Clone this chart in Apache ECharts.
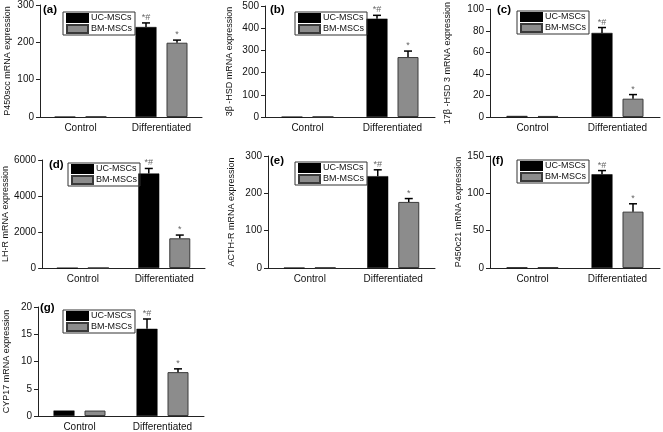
<!DOCTYPE html>
<html>
<head>
<meta charset="utf-8">
<script src="https://cdn.jsdelivr.net/npm/echarts@6/dist/echarts.min.js"></script>
<style>html,body{margin:0;padding:0;background:#fff;}#c{width:663px;height:432px;}</style>
</head>
<body>
<div id="c"></div>
<script>
const categories = ['Control', 'Differentiated'];
const seriesNames = ['UC-MSCs', 'BM-MSCs'];
const panelLabels = ['(a)', '(b)', '(c)', '(d)', '(e)', '(f)', '(g)'];
const yTitles = ['P450scc mRNA expression', '3\u03b2 -HSD mRNA expression', '17\u03b2 -HSD 3 mRNA expression',
  'LH-R mRNA expression', 'ACTH-R mRNA expression', 'P450c21 mRNA expression', 'CYP17 mRNA expression'];
const yMax = [300, 500, 100, 6000, 300, 150, 20];
const yStep = [100, 100, 20, 2000, 100, 50, 5];
// per panel: [Control, Differentiated]
const ucMean = [[1, 241], [1, 443], [1, 78], [1, 5250], [1, 246], [1, 125.5], [1, 16]];
const ucErr  = [[0, 11], [0, 15], [0, 5], [0, 280], [0, 17], [0, 5], [0, 1.8]];
const bmMean = [[1, 199], [1, 270], [1, 17], [1, 1650], [1, 177], [1, 75.5], [1, 8.05]];
const bmErr  = [[0, 7], [0, 27], [0, 3.8], [0, 180], [0, 9], [0, 10.5], [0, 0.6]];
const ucSig = ['', '*#'];
const bmSig = ['', '*'];

// layout (px)
const grids = [
  {left: 40, top: 5, width: 162, height: 112},
  {left: 265, top: 6, width: 170, height: 111},
  {left: 490, top: 5, width: 170, height: 112},
  {left: 40, top: 160, width: 165, height: 108},
  {left: 268, top: 156, width: 167, height: 112},
  {left: 490, top: 156, width: 170, height: 112},
  {left: 38, top: 307, width: 166, height: 111}
];
const nameGaps = [28, 31, 38, 31, 32, 22, 27];
const legendPos = [[63, 12], [295, 12], [517, 11], [68, 163], [295, 162], [517, 160], [63, 310]];
const labelPos = [[43, 4], [270, 4], [497, 4], [49, 159], [270, 155], [492, 155], [40, 302]];

const FONT = 'Liberation Sans';
const BAR_W = 21, GAP = 10;
const OFF = (BAR_W + GAP) / 2;

function errSeries(i, means, errs, off, sig) {
  return {
    type: 'custom', name: 'err' + i + off, xAxisIndex: i, yAxisIndex: i, z: 5,
    data: means[i].map((m, c) => [c, m, errs[i][c]]),
    renderItem: function (params, api) {
      const c = api.value(0), m = api.value(1), e = api.value(2);
      const base = api.coord([c, m]);
      const top = api.coord([c, m + e]);
      const x = base[0] + off;
      const ch = [];
      if (e > 0) {
        ch.push({type: 'line', shape: {x1: x, y1: base[1], x2: x, y2: top[1]}, style: {stroke: '#000', lineWidth: 1.5}});
        ch.push({type: 'line', shape: {x1: x - 4, y1: top[1], x2: x + 4, y2: top[1]}, style: {stroke: '#000', lineWidth: 1.5}});
      }
      const t = sig[params.dataIndex];
      if (t) {
        ch.push({type: 'text', style: {text: t, x: x, y: top[1] - 1, align: 'center', verticalAlign: 'bottom',
          fontSize: 9, fontFamily: FONT, fill: '#666'}});
      }
      return {type: 'group', children: ch};
    }
  };
}

const option = {
  animation: false,
  backgroundColor: '#fff',
  grid: grids.map(g => Object.assign({containLabel: false}, g)),
  xAxis: grids.map((g, i) => ({
    type: 'category', gridIndex: i, data: categories,
    axisLine: {lineStyle: {color: '#222', width: 1}},
    axisTick: {alignWithLabel: true, length: 3, lineStyle: {color: '#222'}},
    axisLabel: {fontSize: 10, fontFamily: FONT, color: '#111', margin: 6}
  })),
  yAxis: grids.map((g, i) => ({
    type: 'value', gridIndex: i, min: 0, max: yMax[i], interval: yStep[i],
    name: yTitles[i], nameLocation: 'middle', nameRotate: 90, nameGap: nameGaps[i],
    nameTextStyle: {fontSize: 9, fontFamily: FONT, color: '#111'},
    axisLine: {show: true, lineStyle: {color: '#222', width: 1}},
    axisTick: {show: true, length: 4, lineStyle: {color: '#222'}},
    axisLabel: {fontSize: 10, fontFamily: FONT, color: '#111', margin: 6, formatter: v => String(v)},
    splitLine: {show: false}
  })),
  legend: legendPos.map(p => ({
    left: p[0], top: p[1], orient: 'vertical', data: seriesNames, selectedMode: false,
    icon: 'rect', itemWidth: 21, itemHeight: 8, itemGap: 1,
    borderColor: '#333', borderWidth: 1, padding: [1, 3, 1, 3],
    textStyle: {fontSize: 9, lineHeight: 10, fontFamily: FONT, color: '#111', padding: [0, 0, 0, -2]}
  })),
  graphic: labelPos.map((p, i) => ({
    type: 'text', left: p[0], top: p[1],
    style: {text: panelLabels[i], fontSize: 11.5, fontWeight: 'bold', fontFamily: FONT, fill: '#000'}
  })),
  series: []
};

for (let i = 0; i < grids.length; i++) {
  option.series.push({
    type: 'bar', name: seriesNames[0], xAxisIndex: i, yAxisIndex: i, data: ucMean[i],
    barWidth: BAR_W, barGap: (GAP / BAR_W * 100) + '%',
    itemStyle: {color: '#000', borderColor: '#000', borderWidth: 0.5}
  });
  option.series.push({
    type: 'bar', name: seriesNames[1], xAxisIndex: i, yAxisIndex: i, data: bmMean[i],
    barWidth: BAR_W, barGap: (GAP / BAR_W * 100) + '%',
    itemStyle: {color: '#8c8c8c', borderColor: '#3a3a3a', borderWidth: 1}
  });
  option.series.push(errSeries(i, ucMean, ucErr, -OFF, ucSig));
  option.series.push(errSeries(i, bmMean, bmErr, OFF, bmSig));
}

const chart = echarts.init(document.getElementById('c'), null, {renderer: 'canvas'});
chart.setOption(option);
</script>
</body>
</html>
